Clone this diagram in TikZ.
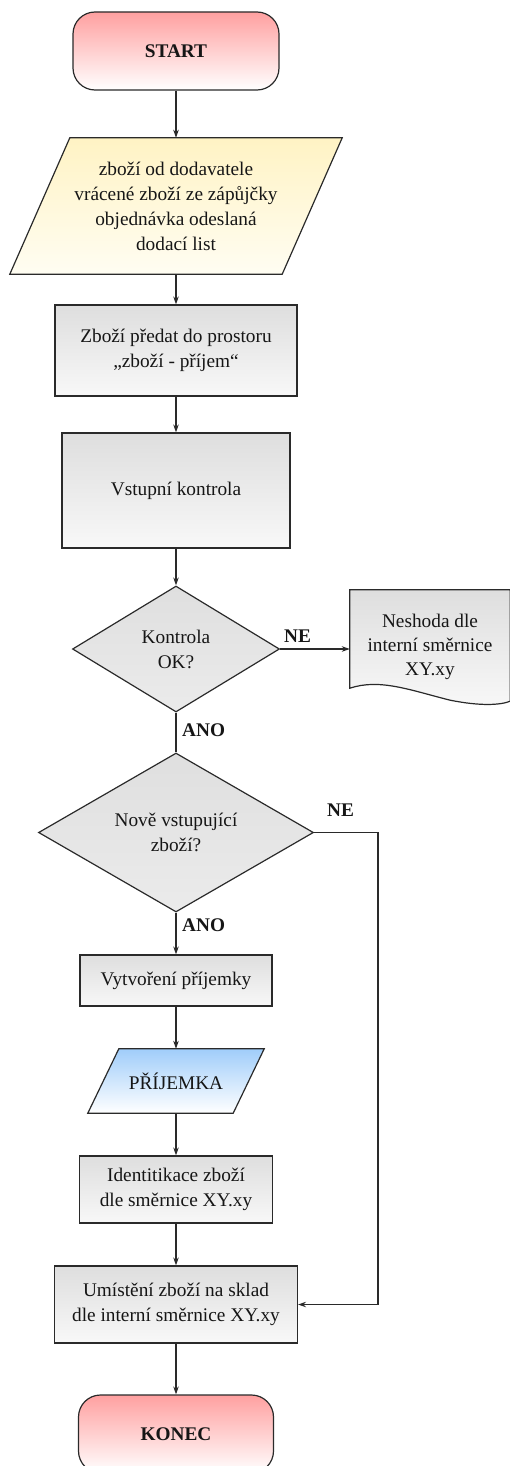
\documentclass[tikz,border=0pt]{standalone}
\usepackage{fontspec}
\setmainfont{Liberation Serif}
\usetikzlibrary{shapes.geometric,arrows.meta,calc,backgrounds}

\definecolor{edge}{HTML}{2A2A2A}
\definecolor{ink}{HTML}{161616}
\definecolor{termtop}{RGB}{255,160,160}
\definecolor{inputtop}{RGB}{255,243,196}
\definecolor{inputbot}{RGB}{255,253,242}
\definecolor{greytop}{HTML}{DEDEDE}
\definecolor{greybot}{HTML}{F8F8F8}
\definecolor{diatop}{HTML}{DFDFDF}
\definecolor{diabot}{HTML}{EBEBEB}
\definecolor{bluetop}{RGB}{160,205,250}

\begin{document}
\begin{tikzpicture}[x=1pt,y=1pt,
  font=\fontsize{19.3}{25}\selectfont,
  base/.style={draw=edge, line width=1.2pt, align=center, text=ink, inner sep=2pt},
  terminal/.style={base, rectangle, rounded corners=22pt, top color=termtop, bottom color=white,
    font=\fontsize{19.3}{25}\selectfont\bfseries},
  process/.style={base, rectangle, top color=greytop, bottom color=greybot},
  decision/.style={base, diamond, inner sep=0pt, top color=diatop, bottom color=diabot},
  holder/.style={rectangle, inner sep=0pt, align=center, text=ink},
  outline/.style={draw=edge, line width=1.2pt},
  flow/.style={draw=edge, line width=1.1pt, -{Stealth[length=8pt,width=5.5pt]}},
  plain/.style={draw=edge, line width=1.1pt},
  tag/.style={font=\fontsize{19.3}{25}\selectfont\bfseries, text=ink, inner sep=0pt},
]
\clip (0,0) rectangle (509,-1466);

% terminals and process boxes
\node[terminal, minimum width=206pt, minimum height=78pt] (start) at (176,-51) {START};

\node[holder, minimum width=272pt, minimum height=136pt] (in1) at (176,-206)
  {zboží od dodavatele\\vrácené zboží ze zápůjčky\\objednávka odeslaná\\dodací list};

\node[process, minimum width=242pt, minimum height=91pt] (box1) at (176,-350.5)
  {Zboží předat do prostoru\\„zboží - příjem“};

\node[process, minimum width=228pt, minimum height=115pt] (box2) at (176,-490.5)
  {Vstupní kontrola};

\node[decision, minimum width=207pt, minimum height=126pt, shape aspect=1.64] (dia1) at (176,-649)
  {Kontrola\\OK?};

\node[holder, minimum width=160pt, minimum height=114pt, align=center,
  font=\fontsize{19.3}{24}\selectfont] (doc) at (430,-647)
  {Neshoda dle\\interní směrnice\\XY.xy};

\node[decision, minimum width=275pt, minimum height=159pt, shape aspect=1.73] (dia2) at (176,-832.5)
  {Nově vstupující\\zboží?};

\node[process, minimum width=192pt, minimum height=51pt] (box3) at (176,-980.5)
  {Vytvoření příjemky};

\node[holder, minimum width=145pt, minimum height=64pt] (prij) at (176,-1081)
  {PŘÍJEMKA};

\node[process, minimum width=193pt, minimum height=67pt] (box4) at (176,-1189.5)
  {Identitikace zboží\\dle směrnice XY.xy};

\node[process, minimum width=243pt, minimum height=77pt] (box5) at (176,-1304.5)
  {Umístění zboží na sklad\\dle interní směrnice XY.xy};

\node[terminal, minimum width=195pt, minimum height=78pt] (konec) at (176,-1434) {KONEC};

% drawn outlines behind the text holders
\begin{scope}[on background layer]
  \path[outline, top color=inputtop, bottom color=inputbot]
    ($(in1.north west)+(30,0)$) -- ($(in1.north east)+(30,0)$) --
    ($(in1.south east)+(-30,0)$) -- ($(in1.south west)+(-30,0)$) -- cycle;
  \path[outline, top color=bluetop, bottom color=white]
    ($(prij.north west)+(15.5,0)$) -- ($(prij.north east)+(15.5,0)$) --
    ($(prij.south east)+(-15.5,0)$) -- ($(prij.south west)+(-15.5,0)$) -- cycle;
  % document symbol with a wavy lower edge
  \path[outline, top color=greytop, bottom color=greybot]
    (doc.north west) -- (doc.north east) -- ($(doc.south east)+(0,3)$)
    .. controls ($(doc.south east)+(-10,-1)$) and ($(doc.south east)+(-30,-2)$) .. ($(doc.south east)+(-60,4)$)
    .. controls ($(doc.south east)+(-100,14)$) and ($(doc.south west)+(30,26)$) .. ($(doc.south west)+(0,16)$)
    -- cycle;
\end{scope}

% connectors
\draw[flow] (start) -- (in1);
\draw[flow] (in1) -- (box1);
\draw[flow] (box1) -- (box2);
\draw[flow] (box2) -- (dia1);
\draw[flow] (dia1.east) -- (doc.west |- dia1.east);
\draw[plain] (dia1.south) -- (dia2.north);
\coordinate (detour) at (378,-832.5);
\draw[flow] (dia2.east) -- (detour) |- (box5.east);
\draw[flow] (dia2.south) -- (box3.north);
\draw[flow] (box3) -- (prij);
\draw[flow] (prij) -- (box4);
\draw[flow] (box4) -- (box5);
\draw[flow] (box5) -- (konec);

% branch labels
\node[tag, anchor=west] (ne1) at (284,-636) {NE};
\node[tag, anchor=west] (ano1) at (182,-730) {ANO};
\node[tag, anchor=west] (ne2) at (327,-810) {NE};
\node[tag, anchor=west] (ano2) at (182,-925) {ANO};
\end{tikzpicture}
\end{document}
